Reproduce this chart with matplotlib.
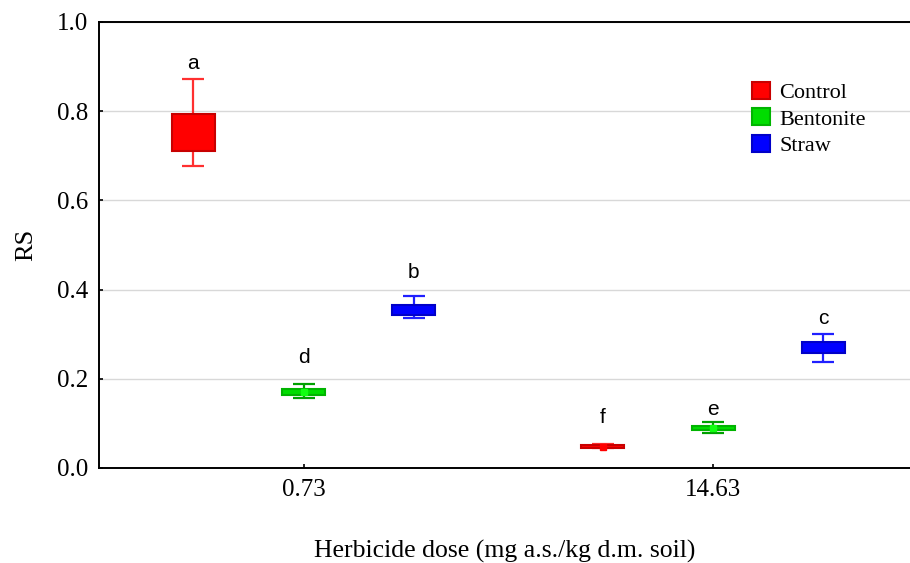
import matplotlib.pyplot as plt
from matplotlib.patches import Patch

doses = ["0.73", "14.63"]
treatments = ["Control", "Bentonite", "Straw"]

# mean, box (low/high), whiskers (low/high) per treatment, one value per dose
means = {
    "Control": [0.752, 0.048],
    "Bentonite": [0.170, 0.090],
    "Straw": [0.355, 0.270],
}
box_lo = {
    "Control": [0.711, 0.045],
    "Bentonite": [0.163, 0.085],
    "Straw": [0.342, 0.258],
}
box_hi = {
    "Control": [0.794, 0.051],
    "Bentonite": [0.177, 0.095],
    "Straw": [0.365, 0.283],
}
whisk_lo = {
    "Control": [0.677, 0.044],
    "Bentonite": [0.158, 0.079],
    "Straw": [0.336, 0.238],
}
whisk_hi = {
    "Control": [0.872, 0.053],
    "Bentonite": [0.188, 0.104],
    "Straw": [0.386, 0.301],
}
letters = {
    "Control": ["a", "f"],
    "Bentonite": ["d", "e"],
    "Straw": ["b", "c"],
}
letter_y = {
    "Control": [0.908, 0.114],
    "Bentonite": [0.247, 0.131],
    "Straw": [0.439, 0.336],
}

fills = {"Control": "#ff0000", "Bentonite": "#00dd00", "Straw": "#0000ff"}
edges = {"Control": "#c80000", "Bentonite": "#00b400", "Straw": "#0000c8"}
whisk_col = {"Control": "#ff3030", "Bentonite": "#00a000", "Straw": "#2020ff"}
marker_col = {"Control": "#ff0000", "Bentonite": "#10ff10", "Straw": "#0000ff"}
offsets = {"Control": -0.270, "Bentonite": 0.0, "Straw": 0.268}

fig = plt.figure(figsize=(9.1, 5.63), dpi=100)
ax = fig.add_axes([99 / 910, 1 - 468 / 563, 1 - 99 / 910, (468 - 22) / 563])

for t in treatments:
    for i in range(len(doses)):
        x = i + 1 + offsets[t]
        m = means[t][i]
        ax.errorbar(x, m, yerr=[[m - whisk_lo[t][i]], [whisk_hi[t][i] - m]],
                    fmt="none", ecolor=whisk_col[t], elinewidth=1.6,
                    capsize=7.8, capthick=1.6, zorder=3)
        ax.bar(x, box_hi[t][i] - box_lo[t][i], bottom=box_lo[t][i], width=0.105,
               color=fills[t], edgecolor=edges[t], linewidth=1.5, zorder=4)
        ax.plot(x, m, "s", color=marker_col[t], markersize=5, zorder=5)
        ax.text(x, letter_y[t][i], letters[t][i], ha="center", va="center",
                fontsize=15, family="Liberation Sans")

ax.set_xlim(0.5, 2.48)
ax.set_ylim(0, 1.0)
ax.set_xticks([1, 2])
ax.set_xticklabels(doses)
ax.set_yticks([0, 0.2, 0.4, 0.6, 0.8, 1.0])
ax.set_yticklabels(["0.0", "0.2", "0.4", "0.6", "0.8", "1.0"])
ax.yaxis.grid(True, color="#d8d8d8", linewidth=1.0)
ax.set_axisbelow(True)
ax.tick_params(direction="in", length=3, width=1.2, labelsize=18, pad=8)
for lab in ax.get_xticklabels() + ax.get_yticklabels():
    lab.set_family("Liberation Serif")
for s in ["left", "bottom", "top"]:
    ax.spines[s].set_linewidth(1.4)
ax.spines["right"].set_visible(False)

ax.set_ylabel("RS", family="Liberation Serif", fontsize=19, labelpad=14)
ax.set_xlabel("Herbicide dose (mg a.s./kg d.m. soil)", family="Liberation Serif",
              fontsize=18.5, labelpad=28)

handles = [Patch(facecolor=fills[t], edgecolor=edges[t], linewidth=1.5) for t in treatments]
leg = ax.legend(handles, treatments, loc="upper left", bbox_to_anchor=(0.781, 0.911),
                frameon=False, prop={"family": "Liberation Serif", "size": 16},
                handlelength=0.8, handleheight=0.8, handletextpad=0.4, labelspacing=0.25,
                borderpad=0.4)

fig.savefig("out.png", dpi=100)
